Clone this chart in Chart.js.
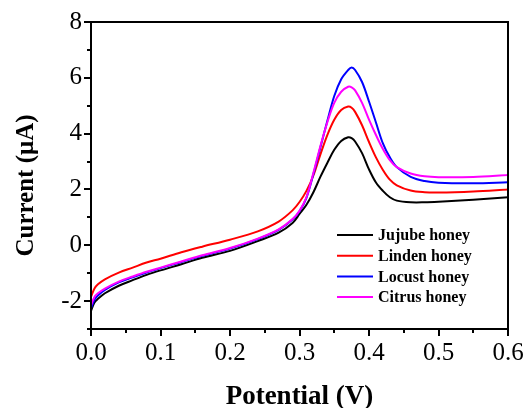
<!DOCTYPE html>
<html>
<head>
<meta charset="utf-8">
<script src="https://cdn.jsdelivr.net/npm/chart.js@4.4.1/dist/chart.umd.min.js"></script>
<style>
html,body{margin:0;padding:0;background:#fff;}
#wrap{width:527px;height:408px;position:relative;}
</style>
</head>
<body>
<div id="wrap"><canvas id="c" width="527" height="408"></canvas></div>
<script>
const potential = [0, 0.005, 0.01, 0.02, 0.04, 0.06, 0.08, 0.10, 0.13, 0.16, 0.20, 0.24, 0.27, 0.29, 0.30, 0.31, 0.32, 0.33, 0.34, 0.35, 0.36, 0.37, 0.375, 0.38, 0.39, 0.40, 0.41, 0.42, 0.43, 0.44, 0.46, 0.48, 0.50, 0.55, 0.60];
const jujube = [-2.35, -2.05, -1.92, -1.72, -1.45, -1.25, -1.06, -0.90, -0.68, -0.45, -0.20, 0.15, 0.45, 0.80, 1.12, 1.45, 1.90, 2.45, 2.95, 3.42, 3.74, 3.87, 3.84, 3.72, 3.30, 2.72, 2.25, 1.95, 1.72, 1.60, 1.54, 1.54, 1.56, 1.63, 1.72];
const linden = [-1.85, -1.55, -1.40, -1.22, -0.98, -0.80, -0.62, -0.48, -0.25, -0.05, 0.20, 0.50, 0.85, 1.25, 1.55, 1.95, 2.50, 3.25, 3.95, 4.50, 4.85, 4.97, 4.93, 4.78, 4.30, 3.70, 3.15, 2.70, 2.35, 2.15, 1.96, 1.90, 1.89, 1.93, 2.00];
const locust = [-2.25, -1.95, -1.80, -1.60, -1.33, -1.15, -0.98, -0.82, -0.60, -0.38, -0.12, 0.22, 0.55, 0.92, 1.22, 1.70, 2.55, 3.50, 4.45, 5.35, 5.95, 6.28, 6.37, 6.28, 5.85, 5.15, 4.40, 3.65, 3.15, 2.80, 2.45, 2.30, 2.24, 2.22, 2.26];
const citrus = [-2.15, -1.85, -1.72, -1.55, -1.30, -1.12, -0.95, -0.80, -0.58, -0.36, -0.10, 0.24, 0.57, 0.94, 1.24, 1.72, 2.60, 3.55, 4.40, 5.10, 5.50, 5.68, 5.66, 5.55, 5.10, 4.50, 3.95, 3.45, 3.05, 2.80, 2.57, 2.47, 2.44, 2.45, 2.52];
const seriesNames = ['Jujube honey', 'Linden honey', 'Locust honey', 'Citrus honey'];
const xTicks = [0.0, 0.1, 0.2, 0.3, 0.4, 0.5, 0.6];
const xMinorTicks = [0.05, 0.15, 0.25, 0.35, 0.45, 0.55];
const yTicks = [-2, 0, 2, 4, 6, 8];
const yMinorTicks = [-3, -1, 1, 3, 5, 7];
const yTitle = 'Current (μA)';
const xTitle = 'Potential (V)';

const colors = ['#000000', '#ff0000', '#0000ff', '#ff00ff'];
const allSeries = [jujube, linden, locust, citrus];

function pts(ys){ return potential.map((x,i)=>({x:x, y:ys[i]})); }

const serif = "'Liberation Serif', 'Times New Roman', serif";

const extras = {
  id: 'extras',
  afterDraw(chart){
    const ctx = chart.ctx, a = chart.chartArea;
    const xs = chart.scales.x, ys = chart.scales.y;
    ctx.save();
    ctx.strokeStyle = '#000';
    ctx.lineWidth = 2;
    ctx.strokeRect(a.left, a.top, a.right - a.left, a.bottom - a.top);
    ctx.beginPath();
    yMinorTicks.forEach(v=>{ const p = Math.round(ys.getPixelForValue(v)); ctx.moveTo(a.left-4, p); ctx.lineTo(a.left, p); });
    xMinorTicks.forEach(v=>{ const p = Math.round(xs.getPixelForValue(v)); ctx.moveTo(p, a.bottom); ctx.lineTo(p, a.bottom+4); });
    ctx.stroke();
    // y title
    ctx.save();
    ctx.translate(33, (a.top + a.bottom) / 2 + 10);
    ctx.rotate(-Math.PI / 2);
    ctx.font = "bold 25px " + serif;
    ctx.fillStyle = '#000';
    ctx.textAlign = 'center';
    ctx.textBaseline = 'alphabetic';
    ctx.fillText(yTitle, 0, 0);
    ctx.restore();
    // legend
    const lx = a.right - 171, tx = a.right - 130;
    let ly = a.bottom - 94;
    ctx.font = "bold 16px " + serif;
    ctx.textBaseline = 'middle';
    ctx.textAlign = 'left';
    seriesNames.forEach((n,i)=>{
      ctx.strokeStyle = colors[i];
      ctx.lineWidth = 2;
      ctx.beginPath(); ctx.moveTo(lx, ly); ctx.lineTo(lx+36, ly); ctx.stroke();
      ctx.fillStyle = '#000';
      ctx.fillText(n, tx, ly+1);
      ly += 20.7;
    });
    ctx.restore();
  }
};

new Chart(document.getElementById('c'), {
  type: 'line',
  data: {
    datasets: allSeries.map((s,i)=>({
      label: seriesNames[i],
      data: pts(s),
      borderColor: colors[i],
      backgroundColor: colors[i],
      borderWidth: 2,
      pointRadius: 0,
      fill: false,
      tension: 0.35,
      order: 4 - i
    }))
  },
  options: {
    responsive: false,
    animation: false,
    events: [],
    layout: { padding: { left: 4, right: 19, top: 22, bottom: 0 } },
    plugins: { legend: { display: false }, tooltip: { enabled: false } },
    scales: {
      x: {
        type: 'linear', min: 0, max: 0.6,
        afterBuildTicks: s => { s.ticks = xTicks.map(v=>({value:v})); },
        afterFit: s => { s.height = 79; },
        ticks: { color: '#000', font: { family: serif, size: 25 }, padding: 2, maxRotation: 0, autoSkip: false,
          callback: v => Number(v).toFixed(1) },
        grid: { drawOnChartArea: false, tickLength: 7, color: '#000', lineWidth: 2 },
        border: { display: true, color: '#000', width: 2 },
        title: { display: true, text: xTitle, color: '#000', font: { family: serif, size: 27, weight: 'bold' }, padding: { top: 4, bottom: -5 } }
      },
      y: {
        type: 'linear', min: -3, max: 8,
        afterBuildTicks: s => { s.ticks = yTicks.map(v=>({value:v})); },
        afterFit: s => { s.width = 87; },
        ticks: { color: '#000', font: { family: serif, size: 25 }, padding: 2, autoSkip: false,
          callback: v => String(v) },
        grid: { drawOnChartArea: false, tickLength: 7, color: '#000', lineWidth: 2 },
        border: { display: true, color: '#000', width: 2 }
      }
    }
  },
  plugins: [extras]
});
</script>
</body>
</html>
